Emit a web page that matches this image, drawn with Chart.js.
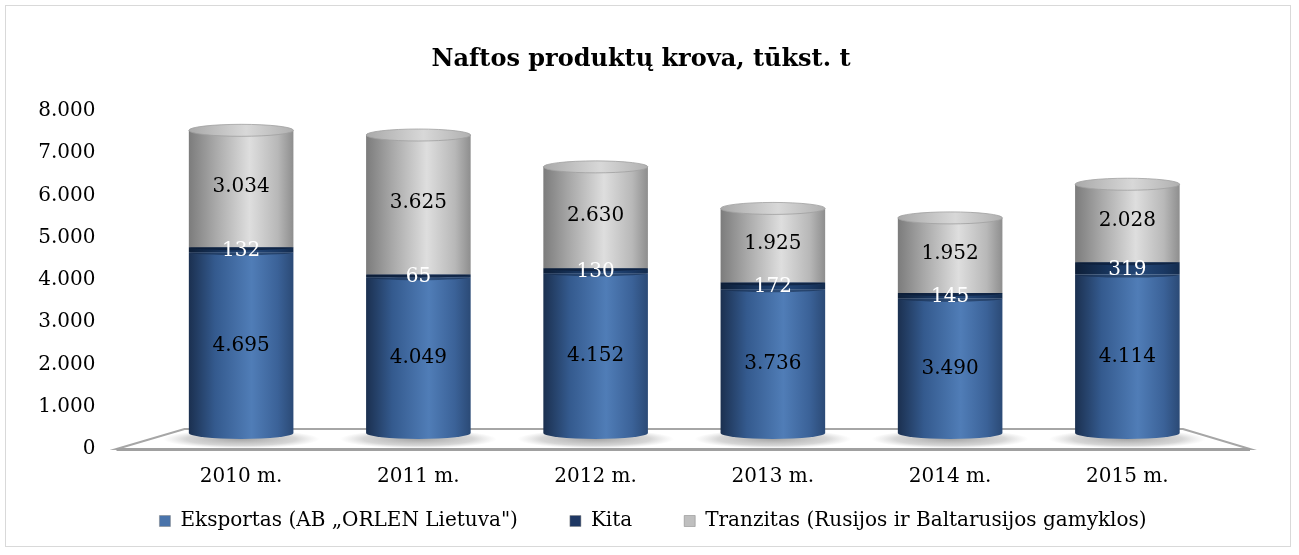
<!DOCTYPE html>
<html>
<head>
<meta charset="utf-8">
<script src="https://cdn.jsdelivr.net/npm/chart.js@4.4.1/dist/chart.umd.min.js"></script>
<style>
  html, body { margin: 0; padding: 0; background: #ffffff; }
  #wrap { position: relative; width: 1299px; height: 555px; }
  #frame { position: absolute; left: 5px; top: 5px; width: 1286px; height: 542px; border: 1.5px solid #d9d9d9; box-sizing: border-box; pointer-events: none; }
  canvas { position: absolute; left: 0; top: 0; }
</style>
</head>
<body>
<div id="wrap">
  <canvas id="c" width="1299" height="555"></canvas>
  <div id="frame"></div>
</div>
<script>
const categories = ['2010 m.', '2011 m.', '2012 m.', '2013 m.', '2014 m.', '2015 m.'];
const eksportas = [4695, 4049, 4152, 3736, 3490, 4114];
const kita = [132, 65, 130, 172, 145, 319];
const tranzitas = [3034, 3625, 2630, 1925, 1952, 2028];
const yTicks = [0, 1000, 2000, 3000, 4000, 5000, 6000, 7000, 8000];
const seriesNames = ['Eksportas (AB „ORLEN Lietuva")', 'Kita', 'Tranzitas (Rusijos ir Baltarusijos gamyklos)'];

const FONT = "'DejaVu Serif', 'Liberation Serif', serif";
const BAR_PCT = 0.59;

function fmt(v) {
  return String(v).replace(/\B(?=(\d{3})+(?!\d))/g, '.');
}

const palettes = [
  [[0, '#1b3050'], [0.25, '#345a8e'], [0.6, '#507db7'], [0.85, '#3b6298'], [1, '#2b4a76']],
  [[0, '#0e1f38'], [0.3, '#17335a'], [0.6, '#234676'], [0.85, '#1a3863'], [1, '#142c4e']],
  [[0, '#7c7c7c'], [0.25, '#a8a8a8'], [0.58, '#dedede'], [0.85, '#b8b8b8'], [1, '#8e8e8e']]
];
const solid = ['#4a74ab', '#1f3864', '#bfbfbf'];

function makeGrad(chart, idx, stops) {
  const xs = chart.scales.x;
  const cx = xs.getPixelForValue(idx);
  const hw = xs.width / categories.length * BAR_PCT / 2;
  const g = chart.ctx.createLinearGradient(cx - hw, 0, cx + hw, 0);
  stops.forEach(s => g.addColorStop(s[0], s[1]));
  return g;
}

function bg(di) {
  return function (ctx) {
    const chart = ctx.chart;
    if (ctx.type !== 'data' || !chart.scales || !chart.scales.x || !chart.chartArea) return solid[di];
    return makeGrad(chart, ctx.dataIndex, palettes[di]);
  };
}

const cylinderPlugin = {
  id: 'cyl',
  afterLayout(chart) {
    // let the category labels use the space that overlaps the legend's top padding
    const xs = chart.scales.x;
    xs.height = 50;
    xs.bottom = xs.top + 50;
    // nudge legend to the right like the reference
    const lg = chart.legend;
    if (lg) { lg.left += 12; lg.right += 12; }
  },
  beforeDatasetsDraw(chart) {
    const c = chart.ctx;
    const area = chart.chartArea;
    const yv = chart.scales.y, yb = chart.scales.yb;
    const frontY = yv.getPixelForValue(0);
    const backY = yb.getPixelForValue(0) - 4;
    c.save();
    c.beginPath();
    c.moveTo(area.left - 36, frontY);
    c.lineTo(area.left + 32, backY);
    c.lineTo(area.right - 33, backY);
    c.lineTo(area.right + 34, frontY);
    c.closePath();
    c.fillStyle = '#ffffff';
    c.fill();
    c.strokeStyle = '#a6a6a6';
    c.lineWidth = 2;
    c.stroke();
    c.beginPath();
    c.moveTo(area.left - 36, frontY + 0.5);
    c.lineTo(area.right + 34, frontY + 0.5);
    c.lineWidth = 3;
    c.strokeStyle = '#a0a0a0';
    c.stroke();
    const meta = chart.getDatasetMeta(0);
    meta.data.forEach(el => {
      const w = el.width;
      const by = el.base + 6;
      const g = c.createRadialGradient(el.x, by, 0, el.x, by, w * 0.75);
      g.addColorStop(0, 'rgba(90,90,90,0.55)');
      g.addColorStop(0.7, 'rgba(120,120,120,0.3)');
      g.addColorStop(1, 'rgba(160,160,160,0)');
      c.save();
      c.translate(el.x, by);
      c.scale(1, 0.12);
      c.translate(-el.x, -by);
      c.beginPath();
      c.arc(el.x, by, w * 0.75, 0, Math.PI * 2);
      c.fillStyle = g;
      c.fill();
      c.restore();
    });
    c.restore();
  },
  afterDatasetsDraw(chart) {
    const c = chart.ctx;
    const ry = 6;
    c.save();
    const m0 = chart.getDatasetMeta(0);
    m0.data.forEach((el, i) => {
      const hw = el.width / 2;
      c.beginPath();
      c.ellipse(el.x, el.base, hw, ry, 0, 0, Math.PI);
      c.fillStyle = makeGrad(chart, i, palettes[0]);
      c.fill();
    });
    [0, 1].forEach(di => {
      const m = chart.getDatasetMeta(di);
      m.data.forEach((el, i) => {
        const hw = el.width / 2;
        c.beginPath();
        c.ellipse(el.x, el.y, hw, ry * 0.5, 0, 0, Math.PI);
        c.fillStyle = di === 0 ? 'rgba(20,40,70,0.55)' : 'rgba(10,25,50,0.6)';
        c.fill();
      });
    });
    const m2 = chart.getDatasetMeta(2);
    m2.data.forEach((el, i) => {
      const hw = el.width / 2;
      const g = c.createLinearGradient(el.x - hw, 0, el.x + hw, 0);
      g.addColorStop(0, '#a9a9a9');
      g.addColorStop(0.55, '#d8d8d8');
      g.addColorStop(1, '#b0b0b0');
      c.beginPath();
      c.ellipse(el.x, el.y, hw, ry, 0, 0, Math.PI * 2);
      c.fillStyle = g;
      c.fill();
      c.strokeStyle = 'rgba(160,160,160,0.8)';
      c.lineWidth = 1;
      c.stroke();
    });
    c.restore();
  },
  afterDraw(chart) {
    const c = chart.ctx;
    c.save();
    c.font = '20px ' + FONT;
    c.textAlign = 'center';
    c.textBaseline = 'middle';
    chart.data.datasets.forEach((ds, di) => {
      const m = chart.getDatasetMeta(di);
      m.data.forEach((el, i) => {
        const v = ds.data[i];
        c.fillStyle = di === 1 ? '#ffffff' : '#000000';
        const y = (el.y + el.base) / 2;
        c.fillText(fmt(v), el.x, di === 1 ? y + 1 : (di === 0 ? y + 3 : y - 2));
      });
    });
    c.restore();
  }
};

new Chart(document.getElementById('c'), {
  type: 'bar',
  data: {
    labels: categories,
    datasets: [
      { label: seriesNames[0], data: eksportas, backgroundColor: bg(0), yAxisID: 'yb', barPercentage: BAR_PCT, categoryPercentage: 1 },
      { label: seriesNames[1], data: kita, backgroundColor: bg(1), yAxisID: 'yb', barPercentage: BAR_PCT, categoryPercentage: 1 },
      { label: seriesNames[2], data: tranzitas, backgroundColor: bg(2), yAxisID: 'yb', barPercentage: BAR_PCT, categoryPercentage: 1 }
    ]
  },
  options: {
    responsive: false,
    animation: false,
    devicePixelRatio: 1,
    layout: { padding: { left: 0, right: 17, top: 30, bottom: 14 } },
    plugins: {
      title: {
        display: true,
        text: 'Naftos produktų krova, tūkst. t',
        color: '#000000',
        font: { family: FONT, size: 24, weight: 'bold' },
        padding: { top: 15, bottom: 37 }
      },
      legend: {
        position: 'bottom',
        labels: {
          color: '#000000',
          font: { family: FONT, size: 20 },
          boxWidth: 11,
          boxHeight: 11,
          padding: 52,
          generateLabels(chart) {
            return seriesNames.map((n, i) => ({
              text: n, fillStyle: solid[i], strokeStyle: '#7f7f7f', lineWidth: 0.5, hidden: false, datasetIndex: i
            }));
          }
        }
      },
      tooltip: { enabled: false }
    },
    scales: {
      x: {
        stacked: true,
        grid: { display: false, drawTicks: false },
        border: { display: false },
        ticks: { color: '#000000', font: { family: FONT, size: 20 }, padding: 16 },
        afterFit(s) { s.height = 10; }
      },
      y: {
        position: 'left',
        min: 0, max: 8000,
        afterBuildTicks(s) { s.ticks = yTicks.map(v => ({ value: v })); },
        grid: { display: false, drawTicks: false },
        border: { display: false },
        ticks: { color: '#000000', font: { family: FONT, size: 20 }, padding: 57, callback: v => fmt(v) },
        afterFit(s) { s.width = 152.5; }
      },
      yr: {
        type: 'linear',
        position: 'right',
        display: true,
        grid: { display: false, drawTicks: false },
        border: { display: false },
        ticks: { display: false },
        afterFit(s) { s.width = 66; }
      },
      yb: {
        display: false,
        stacked: true,
        min: -414, max: 8368
      }
    }
  },
  plugins: [cylinderPlugin]
});
</script>
</body>
</html>
